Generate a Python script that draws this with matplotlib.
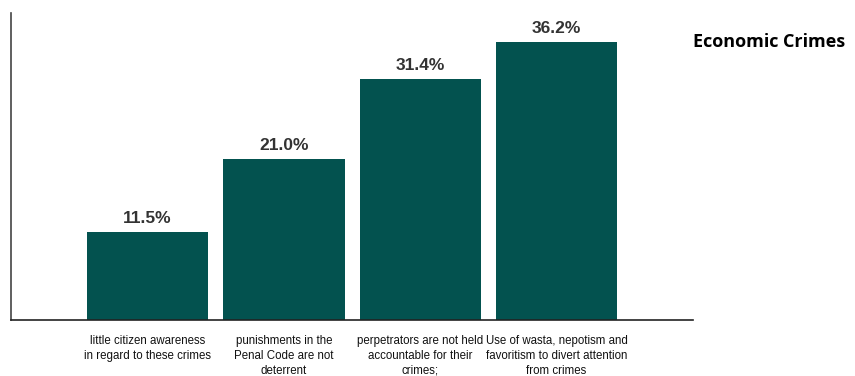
import matplotlib
matplotlib.use('Agg')
from matplotlib import pyplot as plt

categories = ['little citizen awareness\nin regard to these crimes',
              'punishments in the\nPenal Code are not\ndeterrent',
              'perpetrators are not held\naccountable for their\ncrimes;',
              'Use of wasta, nepotism and\nfavoritism to divert attention\nfrom crimes']
values = [11.5, 21.0, 31.4, 36.2]
title = 'Economic Crimes'

bar_color = '#03524F'

fig = plt.figure(figsize=(8.55, 3.76), dpi=100)
ax = fig.add_axes([0.0129, 0.149, 0.7976, 0.816])

xs = list(range(len(values)))
ax.bar(xs, values, width=0.89, color=bar_color)
for x, v, lab in zip(xs, values, categories):
    ax.text(x, v + 0.8, '%.1f%%' % v, ha='center', va='bottom',
            fontsize=12.5, fontweight='bold', color='#333333', family='Liberation Sans')
    ax.text(x, -2.0, lab, ha='center', va='top',
            fontsize=8.3, family='Liberation Sans',
            color='#111111', linespacing=1.3)

ax.set_xlim(-1, 4)
ax.set_ylim(0, 40)
ax.set_xticks([])
ax.set_yticks([])
ax.spines['top'].set_visible(False)
ax.spines['right'].set_visible(False)
ax.spines['left'].set_color('#444444')
ax.spines['bottom'].set_color('#222222')
ax.spines['left'].set_linewidth(1.2)
ax.spines['bottom'].set_linewidth(1.2)

fig.text(0.9, 0.888, title, ha='center', va='center', fontsize=13,
         fontweight='bold', family='Open Sans')

fig.savefig('out.png', dpi=100)
